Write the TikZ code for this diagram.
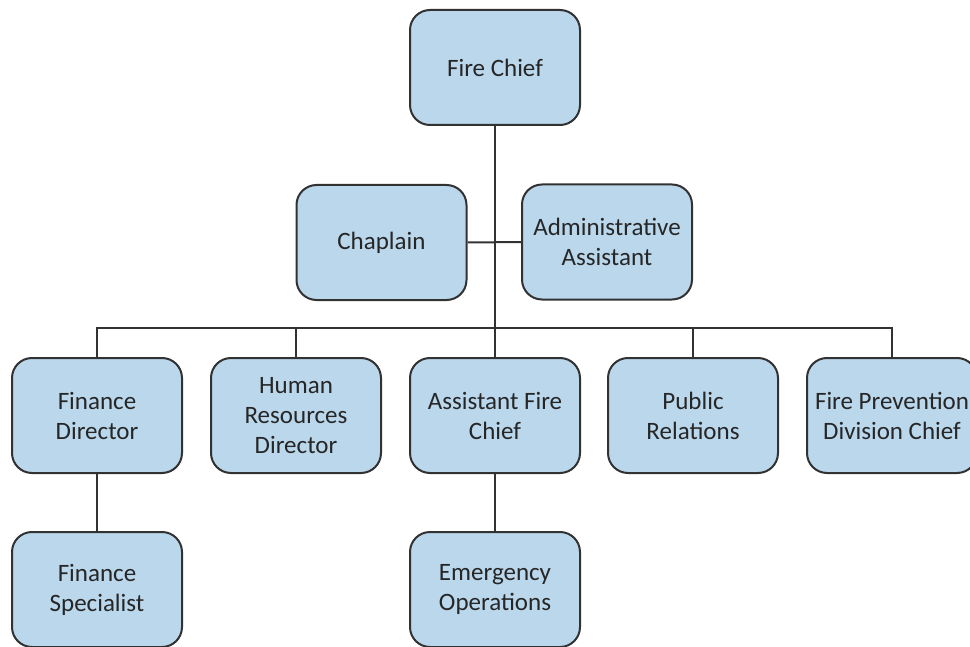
\documentclass[tikz,border=0pt]{standalone}
\usepackage{fontspec}
\setmainfont{Carlito}
\definecolor{boxblue}{RGB}{186,215,236}
\definecolor{boxline}{RGB}{50,50,50}

\begin{document}
\begin{tikzpicture}[x=0.5pt, y=-0.5pt,
	post/.style={draw=boxline, line width=1pt, fill=boxblue, rounded corners=10pt,
		minimum width=85pt, minimum height=57.5pt, align=center,
		font=\fontsize{12.5}{15}\selectfont, text=black!85},
	link/.style={draw=boxline, line width=1pt}]
	\useasboundingbox (0,0) rectangle (970,647);
	\begin{scope}
	\clip (0,0) rectangle (970,647);
	% the posts
	\node [post] (chief) at (495,67.5) {Fire Chief};
	\node [post] (chaplain) at (381.5,242.5) {Chaplain};
	\node [post] (admin) at (607,242) {Administrative\\Assistant};
	\node [post] (findir) at (97,415.5) {Finance\\Director};
	\node [post] (hr) at (296,415.5) {Human\\Resources\\Director};
	\node [post] (afc) at (495,415.5) {Assistant Fire\\Chief};
	\node [post] (pr) at (693,415.5) {Public\\Relations};
	\node [post] (fpdc) at (892,415.5) {Fire Prevention\\Division Chief};
	\node [post] (finspec) at (97,589.5) {Finance\\Specialist};
	\node [post] (emops) at (495,589.5) {Emergency\\Operations};
	% the lines
	\coordinate (bus) at (495,328);
	\draw [link] (chief) -- (afc);
	\draw [link] (chaplain) -- (admin);
	\draw [link] (findir.north) -- (findir.north |- bus) -- (fpdc.north |- bus) -- (fpdc.north);
	\draw [link] (hr.north) -- (hr.north |- bus);
	\draw [link] (pr.north) -- (pr.north |- bus);
	\draw [link] (findir) -- (finspec);
	\draw [link] (afc) -- (emops);
	\end{scope}
\end{tikzpicture}
\end{document}
